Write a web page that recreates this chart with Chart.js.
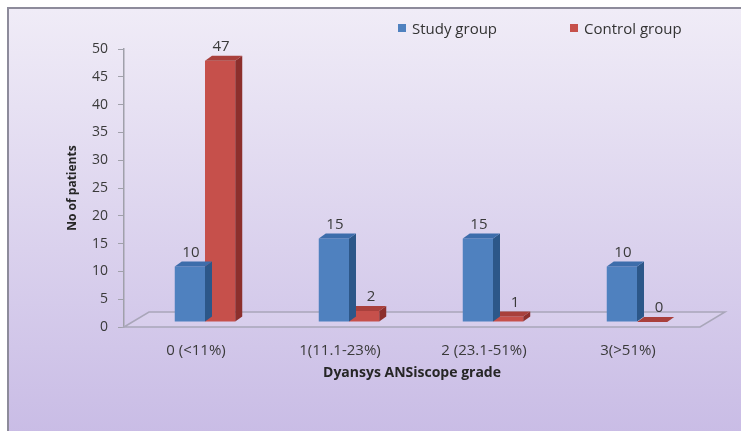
<!DOCTYPE html>
<html>
<head>
<meta charset="utf-8">
<script src="https://cdn.jsdelivr.net/npm/chart.js@4.4.0/dist/chart.umd.min.js"></script>
<style>
  html, body { margin: 0; padding: 0; background: #fff; }
  #wrap { position: relative; width: 741px; height: 431px; overflow: hidden; }
  #frame {
    position: absolute; left: 7px; top: 7px; width: 740px; height: 440px;
    box-sizing: border-box; border: 2px solid #8d8b9b; border-right: none;
    background: linear-gradient(#f0ecf7, #c8bbe5);
  }
  #chart { position: absolute; left: 0; top: 0; }
  #legend {
    position: absolute; top: 18px; left: 398px; display: flex; gap: 73px;
    font: 15px "Open Sans", sans-serif; color: #333; line-height: 20px;
  }
  .legend-item { display: flex; align-items: center; gap: 6px; }
  .legend-box { width: 8px; height: 8px; display: inline-block; }
</style>
</head>
<body>
<div id="wrap">
  <div id="frame"></div>
  <canvas id="chart" width="741" height="431"></canvas>
  <div id="legend"></div>
</div>
<script>
// ===== Data =====
const categories   = ['0 (<11%)', '1(11.1-23%)', '2 (23.1-51%)', '3(>51%)'];
const studyGroup   = [10, 15, 15, 10];
const controlGroup = [47, 2, 1, 0];
const seriesNames  = ['Study group', 'Control group'];
const yMax  = 50;
const yStep = 5;

// ===== Colours =====
const frontColors = ['#4f81bf', '#c6504b'];
const sideColors  = ['#2c5789', '#8c2f2c'];
const topColors   = ['#3d6dab', '#a9403c'];

// 3D look: fronts are pushed back into the floor a bit
const SHIFT_X = 9, SHIFT_Y = -5;   // bar fronts vs. axis
const DEPTH_X = 7, DEPTH_Y = -5;   // bar side / top faces
const FLOOR_X = 25, FLOOR_Y = -15; // floor parallelogram

const bar3d = {
  id: 'bar3d',
  beforeDatasetsDraw(chart) {
    const { ctx, chartArea: a } = chart;
    ctx.save();
    ctx.beginPath();
    ctx.moveTo(a.left, a.bottom);
    ctx.lineTo(a.left + FLOOR_X, a.bottom + FLOOR_Y);
    ctx.lineTo(a.right + FLOOR_X, a.bottom + FLOOR_Y);
    ctx.lineTo(a.right, a.bottom);
    ctx.closePath();
    ctx.fillStyle = 'rgba(255,255,255,0.12)';
    ctx.fill();
    ctx.strokeStyle = '#a9a6b9';
    ctx.lineWidth = 1.5;
    ctx.stroke();
    ctx.restore();

    ctx.save();
    ctx.translate(SHIFT_X, SHIFT_Y);
  },
  afterDatasetDraw(chart, args) {
    const ctx = chart.ctx;
    const i = args.index;
    args.meta.data.forEach(bar => {
      const { x, y, base, width } = bar.getProps(['x', 'y', 'base', 'width'], true);
      const l = x - width / 2, r = x + width / 2;
      // side
      ctx.fillStyle = sideColors[i];
      ctx.beginPath();
      ctx.moveTo(r, base); ctx.lineTo(r, y);
      ctx.lineTo(r + DEPTH_X, y + DEPTH_Y); ctx.lineTo(r + DEPTH_X, base + DEPTH_Y);
      ctx.closePath(); ctx.fill();
      // top
      ctx.fillStyle = topColors[i];
      ctx.beginPath();
      ctx.moveTo(l, y); ctx.lineTo(r, y);
      ctx.lineTo(r + DEPTH_X, y + DEPTH_Y); ctx.lineTo(l + DEPTH_X, y + DEPTH_Y);
      ctx.closePath(); ctx.fill();
    });
  },
  afterDatasetsDraw(chart) {
    const ctx = chart.ctx;
    ctx.font = '15px "Open Sans", sans-serif';
    ctx.fillStyle = '#3a3a3a';
    ctx.textAlign = 'center';
    ctx.textBaseline = 'middle';
    chart.data.datasets.forEach((ds, i) => {
      chart.getDatasetMeta(i).data.forEach((bar, j) => {
        const { x, y } = bar.getProps(['x', 'y'], true);
        // short red bars get their label nudged right, like the original
        const dx = (i === 1 && ds.data[j] < 5) ? 7 : 1;
        ctx.fillText(String(ds.data[j]), x + dx, y - 14);
      });
    });
    ctx.restore();
  }
};

// ===== Legend (HTML) =====
const legendEl = document.getElementById('legend');
seriesNames.forEach((name, i) => {
  const item = document.createElement('div');
  item.className = 'legend-item';
  const box = document.createElement('span');
  box.className = 'legend-box';
  box.style.backgroundColor = frontColors[i];
  const text = document.createElement('span');
  text.textContent = name;
  item.appendChild(box); item.appendChild(text);
  legendEl.appendChild(item);
});

// ===== Chart =====
const ctx = document.getElementById('chart').getContext('2d');
new Chart(ctx, {
  type: 'bar',
  data: {
    labels: categories,
    datasets: [
      { label: seriesNames[0], data: studyGroup,   backgroundColor: frontColors[0], borderWidth: 0, categoryPercentage: 0.42, barPercentage: 1.0 },
      { label: seriesNames[1], data: controlGroup, backgroundColor: frontColors[1], borderWidth: 0, categoryPercentage: 0.42, barPercentage: 1.0 }
    ]
  },
  options: {
    responsive: false,
    animation: false,
    layout: { padding: { left: 61, top: 49, right: 41, bottom: 46 } },
    plugins: { legend: { display: false }, tooltip: { enabled: false } },
    scales: {
      x: {
        grid: { display: false },
        border: { display: false },
        ticks: { color: '#3a3a3a', font: { family: 'Open Sans', size: 15 }, padding: 7, maxRotation: 0 },
        title: { display: true, text: 'Dyansys ANSiscope grade', color: '#262626', font: { family: 'Open Sans', size: 14, weight: 'bold' } },
        afterFit: s => { s.height = 58; }
      },
      y: {
        min: 0, max: yMax,
        grid: { display: true, drawOnChartArea: false, drawTicks: true, tickLength: 6, color: '#a0a0aa' },
        border: { display: true, color: '#a0a0aa', width: 1.5 },
        ticks: { stepSize: yStep, color: '#3a3a3a', font: { family: 'Open Sans', size: 14 }, padding: 10 },
        title: { display: true, text: 'No of patients', color: '#262626', font: { family: 'Open Sans', size: 12, weight: 'bold' } },
        afterFit: s => { s.width = 63; }
      }
    }
  },
  plugins: [bar3d]
});
</script>
</body>
</html>
